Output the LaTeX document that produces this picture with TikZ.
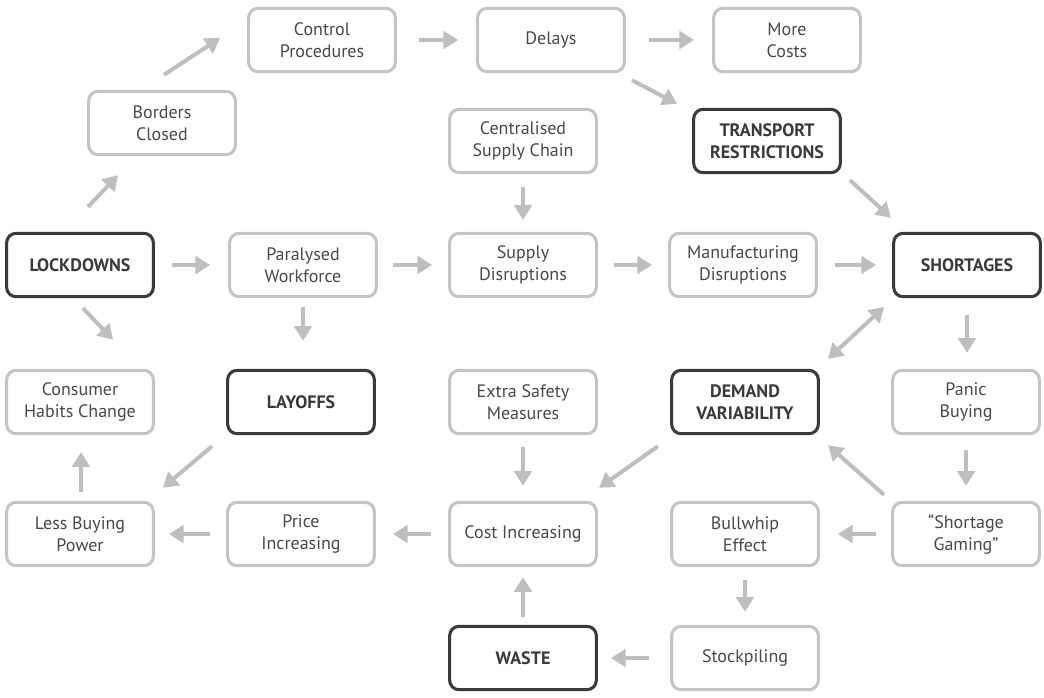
\documentclass[tikz,border=0pt]{standalone}
\usepackage{fontspec}
\setmainfont{PT Sans}
\usetikzlibrary{arrows.meta,calc}
\definecolor{boxgray}{HTML}{C4C4C4}
\definecolor{boxdark}{HTML}{3A3A3A}
\definecolor{arrgray}{HTML}{BEBEBE}
\definecolor{txtgray}{HTML}{484848}
\begin{document}
\begin{tikzpicture}[x=0.75pt,y=-0.75pt,
	box/.style={draw=boxgray, line width=2.3pt, rounded corners=7pt, minimum width=110pt, minimum height=47.5pt, align=center, text=txtgray, font=\fontsize{13.5}{16.5}\selectfont},
	key/.style={box, draw=boxdark, text=boxdark, font=\fontsize{13.5}{16.5}\selectfont\bfseries},
	arr/.style={draw=arrgray, line width=3pt, -{Triangle[length=11pt,width=13pt]}},
	dblarr/.style={arr, {Triangle[length=11pt,width=13pt]}-{Triangle[length=11pt,width=13pt]}}]
			\useasboundingbox (0,0) rectangle (1044,697);
			% top rows
			\node[box] (ctrl) at (322,40) {Control\\Procedures};
			\node[box] (delays) at (551,40) {Delays};
			\node[box] (costs) at (787,40) {More\\Costs};
			\node[box] (borders) at (162,123) {Borders\\Closed};
			\node[box] (central) at (523,141) {Centralised\\Supply Chain};
			\node[key] (transport) at (767,141) {TRANSPORT\\RESTRICTIONS};
			% middle row
			\node[key] (lock) at (80,265) {LOCKDOWNS};
			\node[box] (para) at (303,265) {Paralysed\\Workforce};
			\node[box] (supply) at (523,265) {Supply\\Disruptions};
			\node[box] (manuf) at (743,265) {Manufacturing\\Disruptions};
			\node[key] (short) at (967,265) {SHORTAGES};
			% lower rows
			\node[box] (habits) at (80,402) {Consumer\\Habits Change};
			\node[key] (layoffs) at (301,402) {LAYOFFS};
			\node[box] (safety) at (523,402) {Extra Safety\\Measures};
			\node[key] (demand) at (745,402) {DEMAND\\VARIABILITY};
			\node[box] (panic) at (966,402) {Panic\\Buying};
			\node[box] (power) at (80,534) {Less Buying\\Power};
			\node[box] (price) at (301,534) {Price\\Increasing};
			\node[box] (cost) at (523,534) {Cost Increasing};
			\node[box] (bull) at (745,534) {Bullwhip\\Effect};
			\node[box] (gaming) at (966,534) {“Shortage\\Gaming”};
			\node[key] (waste) at (523,658) {WASTE};
			\node[box] (stock) at (745,658) {Stockpiling};
			% arrows
			\draw[arr] ($(lock.north)+(8,-25)$) -- ($(borders.south)+(-44,19)$);
			\draw[arr] ($(borders.north)+(2,-15)$) -- ($(ctrl.west)+(-27,-2)$);
			\draw[arr] ($(ctrl.east)+(22,0)$) -- ($(delays.west)+(-18,0)$);
			\draw[arr] ($(delays.east)+(23,0)$) -- ($(costs.west)+(-18,0)$);
			\draw[arr] ($(delays.south)+(81,7)$) -- ($(transport.north)+(-90,-4)$);
			\draw[arr] ($(transport.south)+(83,6)$) -- ($(short.north)+(-76,-14)$);
			\draw[arr] ($(central.south)+(0,13)$) -- ($(supply.north)+(0,-12)$);
			\draw[arr] ($(lock.east)+(17,0)$) -- ($(para.west)+(-18,0)$);
			\draw[arr] ($(para.east)+(15,0)$) -- ($(supply.west)+(-16,0)$);
			\draw[arr] ($(supply.east)+(16,0)$) -- ($(manuf.west)+(-16,0)$);
			\draw[arr] ($(manuf.east)+(17,0)$) -- ($(short.west)+(-16,0)$);
			\draw[arr] ($(lock.south)+(3,10)$) -- ($(habits.north)+(33,-29)$);
			\draw[arr] ($(para.south)+(0,9)$) -- ($(para.south |- layoffs.north)+(0,-28)$);
			\draw[dblarr] ($(demand.north)+(83,-10)$) -- ($(short.west)+(-8,42)$);
			\draw[arr] ($(short.south)+(0,17)$) -- ($(short.south |- panic.north)+(0,-16)$);
			\draw[arr] ($(panic.south)+(0,15)$) -- ($(gaming.north)+(0,-15)$);
			\draw[arr] ($(gaming.north)+(-82,-6)$) -- ($(demand.south)+(83,10)$);
			\draw[arr] ($(demand.south)+(-87,11)$) -- ($(cost.north)+(76,-13)$);
			\draw[arr] ($(safety.south)+(0,12)$) -- ($(cost.north)+(0,-15)$);
			\draw[arr] ($(gaming.west)+(-15,0)$) -- ($(bull.east)+(18,0)$);
			\draw[arr] ($(bull.south)+(0,13)$) -- ($(stock.north)+(0,-13)$);
			\draw[arr] ($(stock.west)+(-21,0)$) -- ($(waste.east)+(13,0)$);
			\draw[arr] ($(waste.north)+(0,-8)$) -- ($(cost.south)+(0,10)$);
			\draw[arr] ($(cost.west)+(-17,0)$) -- ($(price.east)+(17,0)$);
			\draw[arr] ($(price.west)+(-16,0)$) -- ($(power.east)+(14,0)$);
			\draw[arr] ($(layoffs.south)+(-89,11)$) -- ($(power.north)+(83,-13)$);
			\draw[arr] ($(power.north)+(1,-9)$) -- ($(habits.south)+(1,17)$);
			\end{tikzpicture}
\end{document}
